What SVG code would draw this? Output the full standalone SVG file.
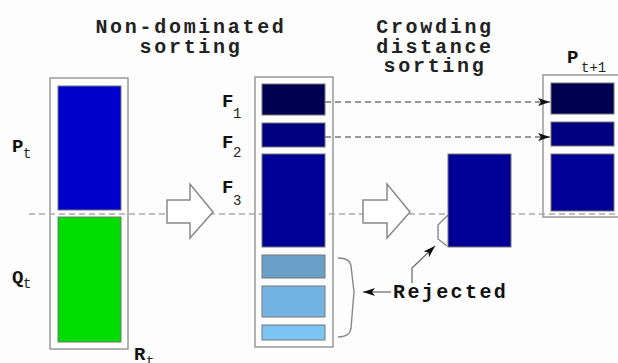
<svg xmlns="http://www.w3.org/2000/svg" width="618" height="363" viewBox="0 0 618 363">
  <style>
    .title { font-family: "Liberation Mono", "Courier New", monospace; font-weight: bold; font-size: 20px; letter-spacing: 2.7px; fill: #222; text-anchor: middle; }
    .lbl { font-family: "Liberation Mono", "Courier New", monospace; font-weight: bold; font-size: 19px; fill: #111; }
    .sub { font-family: "Liberation Mono", "Courier New", monospace; font-size: 14px; fill: #222; }
    .box { fill: none; stroke: #999; stroke-width: 1.5; }
    .blk { stroke: #777; stroke-width: 1; }
    .dash { fill: none; stroke: #aaa; stroke-width: 1.4; stroke-dasharray: 6 4; }
    .dashArrow { fill: none; stroke: #777; stroke-width: 1.3; stroke-dasharray: 6 4; }
    .hollow { fill: #fff; stroke: #888; stroke-width: 1.5; stroke-linejoin: miter; }
    .thin { fill: none; stroke: #888; stroke-width: 1.4; }
    .ptr { fill: none; stroke: #666; stroke-width: 1.2; }
  </style>
  <defs>
    <marker id="head" viewBox="0 0 12 8" refX="12" refY="4" markerWidth="12" markerHeight="8" markerUnits="userSpaceOnUse" orient="auto">
      <path d="M0,0 L12,4 L0,8 L3,4 Z" fill="#111"/>
    </marker>
  </defs>

  <rect width="618" height="363" fill="#fdfdfd"/>

  <!-- step titles -->
  <g id="title-nondominated">
    <text class="title" x="191" y="33">Non-dominated</text>
    <text class="title" x="191" y="53">sorting</text>
  </g>
  <g id="title-crowding">
    <text class="title" x="435" y="33">Crowding</text>
    <text class="title" x="435" y="53">distance</text>
    <text class="title" x="435" y="72">sorting</text>
  </g>

  <!-- outer container outlines -->
  <rect class="box" x="50" y="78" width="78" height="271"/>
  <rect class="box" x="255" y="77" width="78" height="270"/>
  <rect class="box" x="543" y="75" width="80" height="142"/>

  <!-- connectors -->
  <g id="connectors">
    <line class="dash" x1="29" y1="214" x2="618" y2="214"/>
    <line class="dashArrow" x1="325" y1="102" x2="550" y2="102" marker-end="url(#head)"/>
    <line class="dashArrow" x1="325" y1="137" x2="550" y2="137" marker-end="url(#head)"/>
    <polygon class="hollow" points="167,200 190,200 190,184 213,212 190,238 190,223 167,223"/>
    <polygon class="hollow" points="363,200 387,200 387,184 410,212 387,238 387,223 363,223"/>
    <path class="thin" d="M338,258 Q350,258 351,266 L354,292 L351,328 Q350,337 338,337"/>
    <path class="thin" d="M448,215 L438,225 L438,239 L447,246"/>
    <line class="ptr" x1="391" y1="292" x2="363" y2="292" marker-end="url(#head)"/>
    <polyline class="ptr" points="412,283 412,268 435,246" marker-end="url(#head)"/>
  </g>

  <!-- R_t = P_t + Q_t -->
  <g id="node-Pt">
    <rect class="blk" x="58" y="86" width="63" height="124" fill="#0000cc"/>
    <text class="lbl" x="12" y="152">P</text>
    <text class="sub" x="23" y="158">t</text>
  </g>
  <g id="node-Qt">
    <rect class="blk" x="58" y="217" width="63" height="125" fill="#00dd00"/>
    <text class="lbl" x="12" y="283">Q</text>
    <text class="sub" x="23" y="288">t</text>
  </g>
  <g id="node-Rt">
    <text class="lbl" x="134" y="360">R</text>
    <text class="sub" x="146" y="366">t</text>
  </g>

  <!-- fronts after non-dominated sorting -->
  <g id="node-F1">
    <rect class="blk" x="262" y="84" width="63" height="31" fill="#000050"/>
    <text class="lbl" x="222" y="107">F</text>
    <text class="sub" x="233" y="118">1</text>
  </g>
  <g id="node-F2">
    <rect class="blk" x="262" y="123" width="63" height="24" fill="#000080"/>
    <text class="lbl" x="222" y="148">F</text>
    <text class="sub" x="233" y="157">2</text>
  </g>
  <g id="node-F3">
    <rect class="blk" x="262" y="154" width="63" height="93" fill="#000096"/>
    <text class="lbl" x="222" y="193">F</text>
    <text class="sub" x="233" y="205">3</text>
  </g>
  <g id="node-rejected-fronts">
    <rect class="blk" x="262" y="255" width="63" height="23" fill="#6aa0c8"/>
    <rect class="blk" x="262" y="286" width="63" height="31" fill="#74b4e4"/>
    <rect class="blk" x="262" y="325" width="63" height="15" fill="#7cc4f4"/>
  </g>

  <!-- F3 being sorted by crowding distance -->
  <g id="node-F3-sorted">
    <rect class="blk" x="448" y="154" width="63" height="93" fill="#000096"/>
  </g>

  <g id="node-rejected-label">
    <text class="lbl" x="393" y="298" style="font-size:20px; letter-spacing:2.4px">Rejected</text>
  </g>

  <!-- next population -->
  <g id="node-Pt1">
    <rect class="blk" x="551" y="83" width="63" height="31" fill="#000050"/>
    <rect class="blk" x="551" y="122" width="63" height="24" fill="#000080"/>
    <rect class="blk" x="551" y="154" width="63" height="57" fill="#000096"/>
    <text class="lbl" x="567" y="63">P</text>
    <text class="sub" x="581" y="72">t+1</text>
  </g>
</svg>
